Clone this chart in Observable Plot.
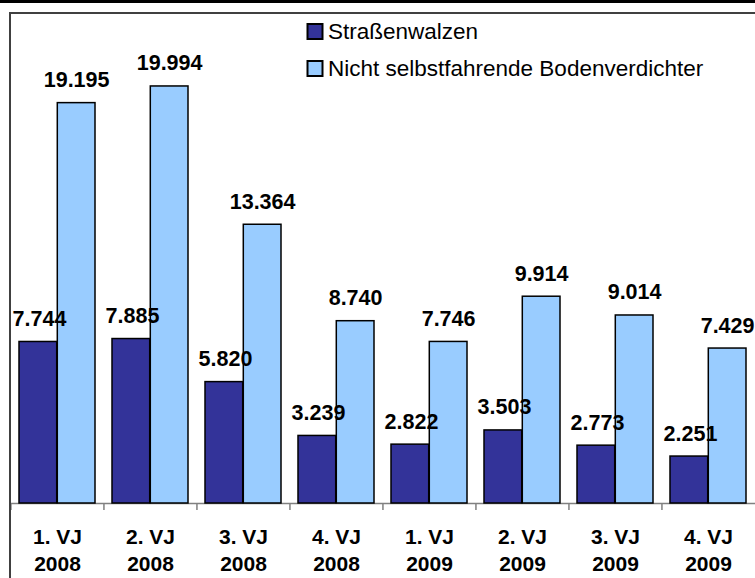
<!DOCTYPE html>
<html>
<head>
<meta charset="utf-8">
<script src="https://cdn.jsdelivr.net/npm/d3@7"></script>
<script src="https://cdn.jsdelivr.net/npm/@observablehq/plot@0.6"></script>
<style>
  body { margin: 0; background: #fff; }
  svg { display: block; }
</style>
</head>
<body>
<div id="chart"></div>
<script>
const categories = ["1. VJ 2008", "2. VJ 2008", "3. VJ 2008", "4. VJ 2008",
                    "1. VJ 2009", "2. VJ 2009", "3. VJ 2009", "4. VJ 2009"];
const quarterLabels = ["1. VJ", "2. VJ", "3. VJ", "4. VJ", "1. VJ", "2. VJ", "3. VJ", "4. VJ"];
const yearLabels = ["2008", "2008", "2008", "2008", "2009", "2009", "2009", "2009"];
const seriesNames = ["Straßenwalzen", "Nicht selbstfahrende Bodenverdichter"];
const strassenwalzen = [7744, 7885, 5820, 3239, 2822, 3503, 2773, 2251];
const bodenverdichter = [19195, 19994, 13364, 8740, 7746, 9914, 9014, 7429];
const colors = ["#333399", "#99CCFF"];

const fmt = d3.formatLocale({decimal: ",", thousands: ".", grouping: [3], currency: ["", "€"]}).format(",d");

const rows1 = categories.map((c, i) => ({cat: c, value: strassenwalzen[i]}));
const rows2 = categories.map((c, i) => ({cat: c, value: bodenverdichter[i]}));

const W = 755, H = 578;
const FONT = "'Liberation Sans', Arial, sans-serif";

const svg = Plot.plot({
  width: W,
  height: H,
  marginTop: 12,
  marginBottom: 75,
  marginLeft: 10,
  marginRight: 0,
  style: {fontFamily: FONT, background: "#fff", color: "#000"},
  x: {domain: categories, paddingInner: 0.178, paddingOuter: 0.089, label: null},
  y: {domain: [0, 23540], axis: null},
  marks: [
    Plot.ruleY([0], {stroke: "#808080", strokeWidth: 1.5}),
    Plot.axisX({tickSize: 7, dx: -46.56, tickFormat: () => "", label: null, stroke: "#808080", strokeWidth: 1.5}),
    Plot.barY(rows1, {x: "cat", y: "value", fill: colors[0], stroke: "#000", strokeWidth: 1.5, insetRight: 38.3}),
    Plot.barY(rows2, {x: "cat", y: "value", fill: colors[1], stroke: "#000", strokeWidth: 1.5, insetLeft: 38.3}),
    Plot.text(rows1, {x: "cat", y: "value", text: d => fmt(d.value), dx: -18, dy: -16,
      lineAnchor: "bottom", fontSize: 21.5, fontWeight: "bold", fill: "#000"}),
    Plot.text(rows2, {x: "cat", y: "value", text: d => fmt(d.value), dx: 19.1, dy: -16,
      lineAnchor: "bottom", fontSize: 21.5, fontWeight: "bold", fill: "#000"}),
    Plot.text(categories, {x: d => d, text: (d, i) => quarterLabels[i] + "\n" + yearLabels[i],
      frameAnchor: "bottom", lineAnchor: "bottom", dy: 67, lineHeight: 1.286,
      fontSize: 21, fontWeight: "bold", fill: "#000"})
  ]
});

const s = d3.select(svg);
// chart borders
s.append("rect").attr("x", 0).attr("y", 0).attr("width", W).attr("height", 3).attr("fill", "#000");
s.append("rect").attr("x", 9).attr("y", 12).attr("width", W - 9).attr("height", 2).attr("fill", "#404040");
s.append("rect").attr("x", 9).attr("y", 12).attr("width", 2).attr("height", H - 12).attr("fill", "#404040");

// legend
const legend = s.append("g")
  .attr("font-family", FONT)
  .attr("font-size", 22.5)
  .attr("text-anchor", "start");
seriesNames.forEach((name, i) => {
  const y0 = 24 + i * 37;
  legend.append("rect").attr("x", 307.5).attr("y", y0).attr("width", 15).attr("height", 15)
    .attr("fill", colors[i]).attr("stroke", "#000").attr("stroke-width", 2);
  legend.append("text").attr("x", 328).attr("y", y0 + 15)
    .attr("fill", "#000").attr("text-anchor", "start").attr("font-size", 22.5)
    .style("font-size", "22.5px").text(name);
});

document.getElementById("chart").appendChild(svg);
</script>
</body>
</html>
